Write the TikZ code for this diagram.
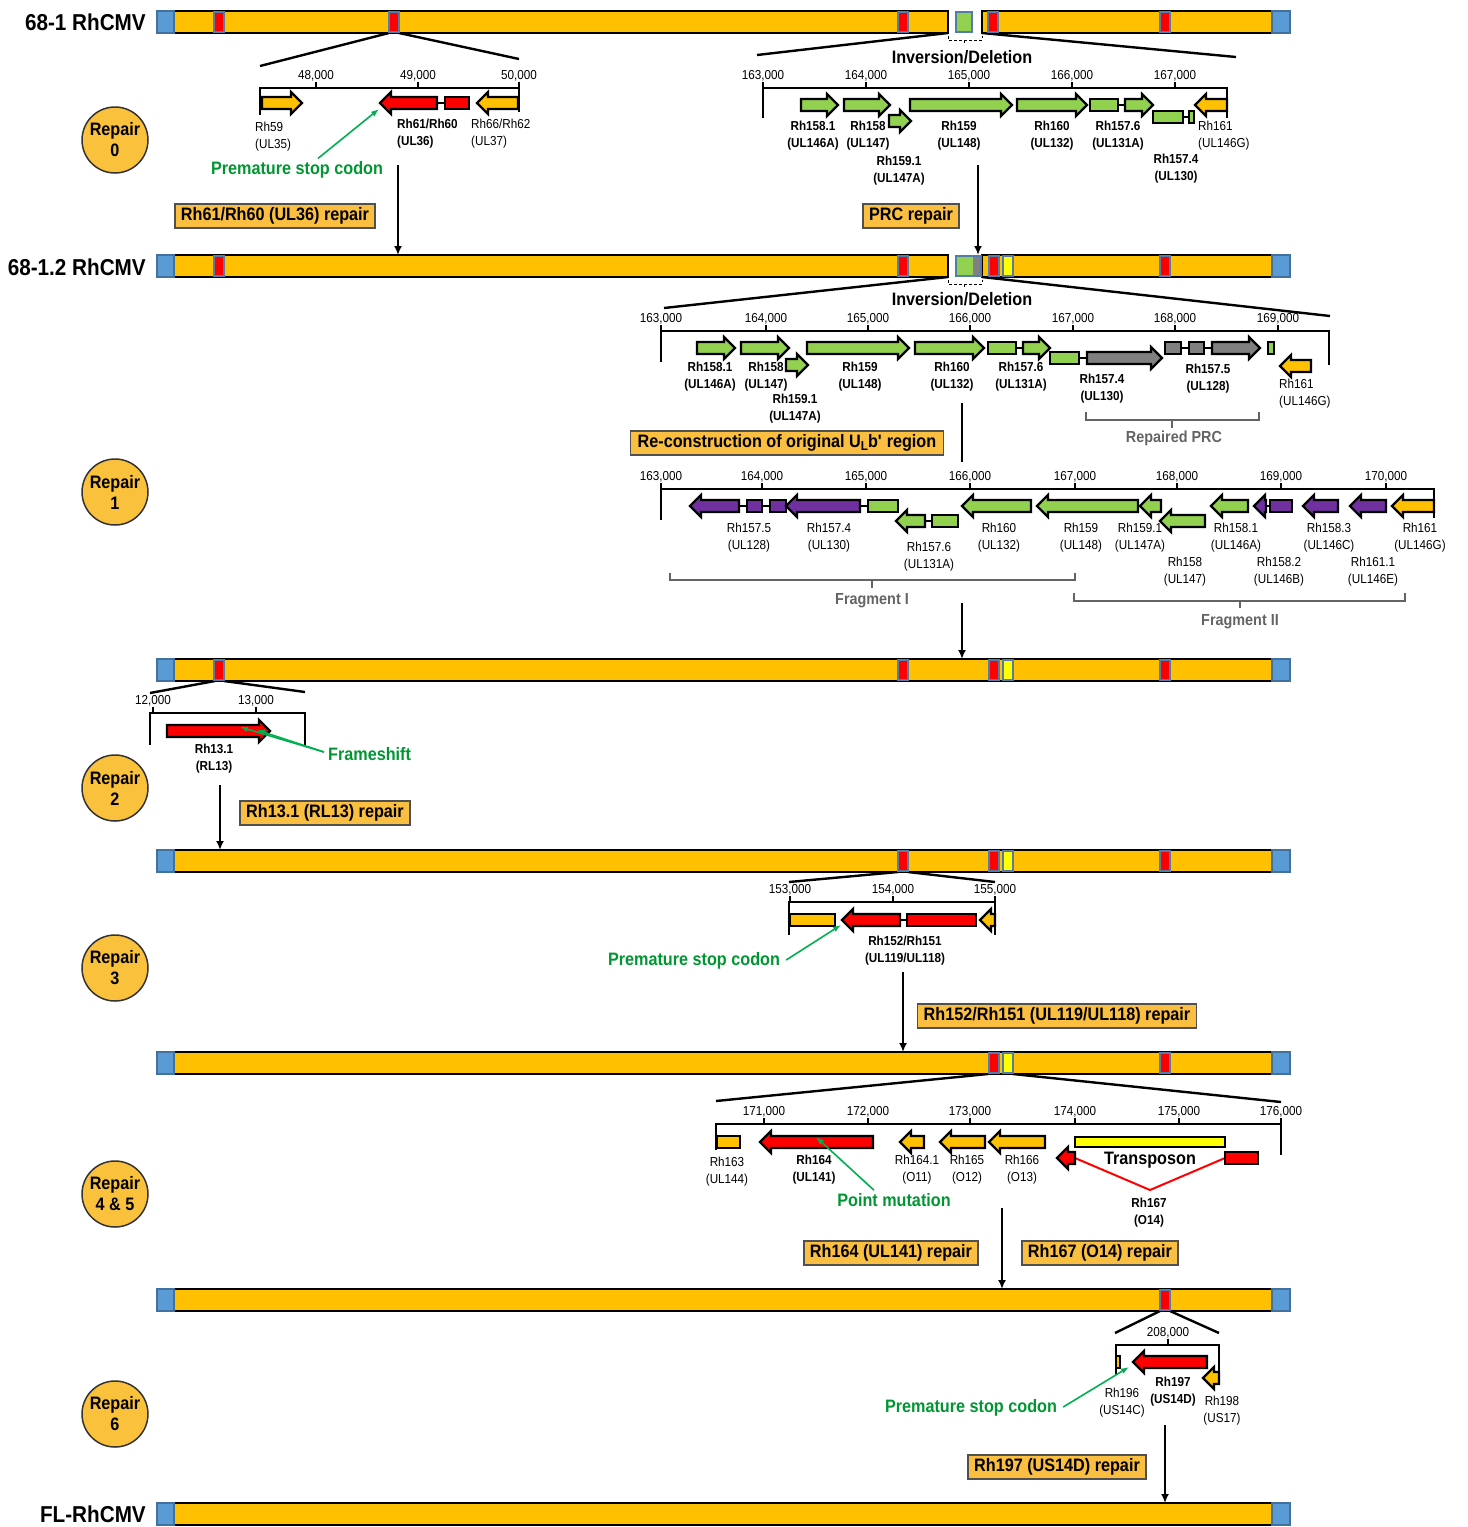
\documentclass[tikz,border=0pt]{standalone}
\usepackage{fontspec}
\setmainfont{Liberation Sans}[FakeStretch=0.9]
\usetikzlibrary{arrows.meta}
\definecolor{gorange}{RGB}{255,192,0}
\definecolor{gred}{RGB}{255,0,0}
\definecolor{ggreen}{RGB}{146,208,80}
\definecolor{gpurple}{RGB}{112,48,160}
\definecolor{ggray}{RGB}{128,128,128}
\definecolor{gyellow}{RGB}{255,255,0}
\definecolor{bblue}{RGB}{91,155,213}
\definecolor{bbluedk}{RGB}{65,113,156}
\definecolor{mkb}{RGB}{84,124,170}
\definecolor{txtgreen}{RGB}{0,150,50}
\definecolor{arrgreen}{RGB}{0,176,80}
\definecolor{circfill}{RGB}{250,193,60}
\definecolor{boxfill}{RGB}{250,190,64}
\definecolor{boxdk}{RGB}{80,80,80}
\definecolor{graytxt}{RGB}{100,100,100}
\newcommand\fsS{\fontsize{13}{17}\selectfont}
\newcommand\fsT{\fontsize{13}{15}\selectfont}
\newcommand\fsB{\fontsize{18}{21}\selectfont}
\newcommand\fsH{\fontsize{23}{26}\selectfont}
\newcommand\fsF{\fontsize{16}{18}\selectfont}
% gene shapes
\newcommand\GR[4]{\draw[gene,fill=#1] (#2,#4-6) -- (#3-11,#4-6) -- (#3-11,#4-11) -- (#3,#4) -- (#3-11,#4+11) -- (#3-11,#4+6) -- (#2,#4+6) -- cycle;}
\newcommand\GL[4]{\draw[gene,fill=#1] (#2,#4) -- (#2+11,#4-11) -- (#2+11,#4-6) -- (#3,#4-6) -- (#3,#4+6) -- (#2+11,#4+6) -- (#2+11,#4+11) -- cycle;}
\newcommand\GB[4]{\draw[gene,fill=#1] (#2,#4-6) rectangle (#3,#4+6);}
\newcommand\GK[3]{\draw[link] (#1,#3) -- (#2,#3);}
\newcommand\tk[3]{\draw[ax] (#1,#2) -- (#1,#2-6); \node[tick] (tk-#1-#2) at (#1,#2-12) {#3};}
\newcommand\genome[1]{%
  \draw[barline,fill=gorange] (174,#1) rectangle (1272,#1+22);
  \draw[endbox] (157,#1) rectangle (174,#1+22);
  \draw[endbox] (1272,#1) rectangle (1290,#1+22);}
\newcommand\mk[3]{\draw[mkst,fill=#3] (#1-5,#2+1) rectangle (#1+5,#2+21);}
\begin{document}
\begin{tikzpicture}[x=1pt,y=-1pt,
  gene/.style={draw=black,line width=2.2pt,line join=miter},
  link/.style={draw=black,line width=2pt},
  ax/.style={line width=2.4pt},
  zl/.style={line width=2.4pt},
  barline/.style={draw=black,line width=2.4pt},
  endbox/.style={draw=bbluedk,fill=bblue,line width=2pt},
  mkst/.style={draw=mkb,line width=2.2pt},
  lab/.style={font=\fsS,inner sep=0pt,align=center},
  blab/.style={font=\fsS\bfseries,inner sep=0pt,align=center},
  tick/.style={font=\fsT,inner sep=0pt},
  big/.style={font=\fsB\bfseries,inner sep=0pt},
  barlab/.style={font=\fsH\bfseries,inner sep=0pt,anchor=east},
  gtxt/.style={font=\fsB\bfseries,text=txtgreen,inner sep=0pt},
  garr/.style={draw=arrgreen,line width=1.6pt,-{Latex[length=8pt,width=6pt]}},
  varr/.style={line width=2pt,-{Latex[length=9pt,width=8pt]}},
  rbox/.style={draw=boxdk,fill=boxfill,line width=1.5pt,font=\fsB\bfseries,inner xsep=6pt,inner ysep=0pt,minimum height=24pt},
  rcirc/.style={circle,draw=black!80,fill=circfill,line width=1.5pt,minimum size=66pt,inner sep=0pt,font=\fsB\bfseries,align=center},
  brk/.style={draw=graytxt,line width=1.2pt},
  dsh/.style={draw=black,line width=0.9pt,densely dashed},
  ftxt/.style={font=\fsF\bfseries,text=graytxt,inner sep=0pt}
]
\useasboundingbox (0,0) rectangle (1468,1527);

% ================= BAR 1 =================
\draw[zl] (389,33) -- (260,66);
\draw[zl] (399,33) -- (519,59);
\draw[zl] (948,33) -- (757,55);
\draw[zl] (982,33) -- (1236,57);
\draw[barline,fill=gorange] (174,11) rectangle (948,33);
\draw[barline,fill=gorange] (982,11) rectangle (1272,33);
\draw[endbox] (157,11) rectangle (174,33);
\draw[endbox] (1272,11) rectangle (1290,33);
\mk{219}{11}{gred}\mk{394}{11}{gred}\mk{903}{11}{gred}\mk{993}{11}{gred}\mk{1165}{11}{gred}
\draw[mkst,fill=ggreen] (956,12) rectangle (972,32);
\node[barlab] (L1) at (146,22) {68-1 RhCMV};
\draw[dsh] (948,36) -- (948,40) -- (982,40) -- (982,36);
\draw[dsh] (964,40) -- (964,45);
\node[big] (inv1) at (962,57) {Inversion/Deletion};

% ---- repair 0 left
\node[rcirc] (c0) at (115,140) {Repair\\0};
\draw[ax] (260,115) -- (260,88) -- (519,88) -- (519,112);
\tk{316}{88}{48,000}\tk{418}{88}{49,000}\tk{519}{88}{50,000}
\GR{gorange}{262}{302}{103}
\GK{437}{445}{103}
\GL{gred}{380}{437}{103}
\GB{gred}{445}{469}{103}
\GL{gorange}{477}{518}{103}
\node[lab,anchor=west,align=left] (g59) at (255,137) {Rh59\\(UL35)};
\node[blab,anchor=west,align=left] (g61) at (397,134) {Rh61/Rh60\\(UL36)};
\node[lab,anchor=west,align=left] (g66) at (471,134) {Rh66/Rh62\\(UL37)};
\node[gtxt] (psc0) at (297,170) {Premature stop codon};
\coordinate (psc0t) at (379,109);
\draw[garr] (psc0.north) ++(21,-3) -- (psc0t);
\node[rbox] (rb0) at (275,216) {Rh61/Rh60 (UL36) repair};
\coordinate (a0s) at (398,165);
\coordinate (a0e) at (398,255);
\draw[varr] (a0s) -- (a0e);

% ---- repair 0 right
\draw[ax] (763,118) -- (763,88) -- (1227,88) -- (1227,118);
\tk{763}{88}{163,000}\tk{866}{88}{164,000}\tk{969}{88}{165,000}\tk{1072}{88}{166,000}\tk{1175}{88}{167,000}
\GR{ggreen}{801}{838}{105}
\GR{ggreen}{844}{890}{105}
\GR{ggreen}{889}{911}{121}
\GR{ggreen}{910}{1012}{105}
\GR{ggreen}{1017}{1087}{105}
\GK{1118}{1125}{105}
\GB{ggreen}{1090}{1118}{105}
\GR{ggreen}{1125}{1153}{105}
\GK{1183}{1189}{117}
\GB{ggreen}{1153}{1183}{117}
\GB{ggreen}{1189}{1194}{117}
\GL{gorange}{1195}{1227}{105}
\node[blab] (h1) at (813,136) {Rh158.1\\(UL146A)};
\node[blab] (h2) at (868,136) {Rh158\\(UL147)};
\node[blab] (h3) at (899,171) {Rh159.1\\(UL147A)};
\node[blab] (h4) at (959,136) {Rh159\\(UL148)};
\node[blab] (h5) at (1052,136) {Rh160\\(UL132)};
\node[blab] (h6) at (1118,136) {Rh157.6\\(UL131A)};
\node[blab] (h7) at (1176,169) {Rh157.4\\(UL130)};
\node[lab,anchor=west,align=left] (h8) at (1198,136) {Rh161\\(UL146G)};
\node[rbox] (rb1) at (911,216) {PRC repair};
\coordinate (a1s) at (978,165);
\coordinate (a1e) at (978,255);
\draw[varr] (a1s) -- (a1e);

% ================= BAR 2 =================
\draw[zl] (948,277) -- (664,308);
\draw[zl] (982,277) -- (1330,316);
\draw[barline,fill=gorange] (174,255) rectangle (948,277);
\draw[barline,fill=gorange] (982,255) rectangle (1272,277);
\draw[endbox] (157,255) rectangle (174,277);
\draw[endbox] (1272,255) rectangle (1290,277);
\mk{219}{255}{gred}\mk{903}{255}{gred}\mk{994}{255}{gred}\mk{1008}{255}{gyellow}\mk{1165}{255}{gred}
\fill[ggreen] (956,256) rectangle (973,276);
\fill[ggray] (973,256) rectangle (981,276);
\draw[mkst] (956,256) rectangle (981,276);
\node[barlab] (L2) at (146,267) {68-1.2 RhCMV};
\draw[dsh] (948,280) -- (948,284) -- (982,284) -- (982,280);
\draw[dsh] (964,284) -- (964,289);
\node[big] (inv2) at (962,299) {Inversion/Deletion};

% ---- repair 1 top
\node[rcirc] (c1) at (115,492) {Repair\\1};
\draw[ax] (661,362) -- (661,331) -- (1329,331) -- (1329,365);
\tk{661}{331}{163,000}\tk{766}{331}{164,000}\tk{868}{331}{165,000}\tk{970}{331}{166,000}\tk{1073}{331}{167,000}\tk{1175}{331}{168,000}\tk{1278}{331}{169,000}
\GR{ggreen}{697}{735}{348}
\GR{ggreen}{741}{789}{348}
\GR{ggreen}{786}{808}{365}
\GR{ggreen}{807}{909}{348}
\GR{ggreen}{915}{984}{348}
\GK{1016}{1023}{348}
\GB{ggreen}{988}{1016}{348}
\GR{ggreen}{1023}{1050}{348}
\GK{1079}{1087}{358}
\GB{ggreen}{1050}{1079}{358}
\GR{ggray}{1087}{1162}{358}
\GK{1181}{1212}{348}
\GB{ggray}{1165}{1181}{348}
\GB{ggray}{1189}{1204}{348}
\GR{ggray}{1212}{1260}{348}
\GB{ggreen}{1268}{1274}{348}
\GL{gorange}{1280}{1311}{366}
\node[blab] (k1) at (710,377) {Rh158.1\\(UL146A)};
\node[blab] (k2) at (766,377) {Rh158\\(UL147)};
\node[blab] (k3) at (795,409) {Rh159.1\\(UL147A)};
\node[blab] (k4) at (860,377) {Rh159\\(UL148)};
\node[blab] (k5) at (952,377) {Rh160\\(UL132)};
\node[blab] (k6) at (1021,377) {Rh157.6\\(UL131A)};
\node[blab] (k7) at (1102,389) {Rh157.4\\(UL130)};
\node[blab] (k8) at (1208,379) {Rh157.5\\(UL128)};
\node[lab,anchor=west,align=left] (k9) at (1279,394) {Rh161\\(UL146G)};
\draw[brk] (1086,412) -- (1086,420) -- (1259,420) -- (1259,412);
\draw[brk] (1172,420) -- (1172,428);
\node[ftxt] (rprc) at (1174,438) {Repaired PRC};
\node[rbox,inner xsep=7pt] (rb2) at (787,443) {Re-construction of original U\raisebox{-0.35ex}{\fontsize{13}{13}\selectfont L}b\textquotesingle{} region};
\coordinate (l1s) at (962,403);
\coordinate (l1e) at (962,462);
\draw[line width=2pt] (l1s) -- (l1e);

% ---- repair 1 bottom
\draw[ax] (661,520) -- (661,489) -- (1434,489) -- (1434,518);
\tk{661}{489}{163,000}\tk{762}{489}{164,000}\tk{866}{489}{165,000}\tk{970}{489}{166,000}\tk{1075}{489}{167,000}\tk{1177}{489}{168,000}\tk{1281}{489}{169,000}\tk{1386}{489}{170,000}
\GK{739}{770}{506}
\GL{gpurple}{690}{739}{506}
\GB{gpurple}{747}{762}{506}
\GB{gpurple}{770}{786}{506}
\GK{860}{868}{506}
\GL{gpurple}{786}{860}{506}
\GB{ggreen}{868}{898}{506}
\GK{925}{932}{521}
\GL{ggreen}{896}{925}{521}
\GB{ggreen}{932}{958}{521}
\GL{ggreen}{962}{1031}{506}
\GL{ggreen}{1037}{1138}{506}
\GL{ggreen}{1140}{1161}{506}
\GL{ggreen}{1160}{1205}{521}
\GL{ggreen}{1211}{1248}{506}
\GK{1266}{1270}{506}
\GL{gpurple}{1254}{1266}{506}
\GB{gpurple}{1270}{1292}{506}
\GL{gpurple}{1303}{1338}{506}
\GL{gpurple}{1350}{1386}{506}
\GL{gorange}{1392}{1434}{506}
\node[lab] (f1) at (749,538) {Rh157.5\\(UL128)};
\node[lab] (f2) at (829,538) {Rh157.4\\(UL130)};
\node[lab] (f3) at (929,557) {Rh157.6\\(UL131A)};
\node[lab] (f4) at (999,538) {Rh160\\(UL132)};
\node[lab] (f5) at (1081,538) {Rh159\\(UL148)};
\node[lab] (f6) at (1140,538) {Rh159.1\\(UL147A)};
\node[lab] (f7) at (1185,572) {Rh158\\(UL147)};
\node[lab] (f8) at (1236,538) {Rh158.1\\(UL146A)};
\node[lab] (f9) at (1279,572) {Rh158.2\\(UL146B)};
\node[lab] (f10) at (1329,538) {Rh158.3\\(UL146C)};
\node[lab] (f11) at (1373,572) {Rh161.1\\(UL146E)};
\node[lab] (f12) at (1420,538) {Rh161\\(UL146G)};
\draw[brk] (670,573) -- (670,580) -- (1075,580) -- (1075,573);
\draw[brk] (872,580) -- (872,588);
\node[ftxt] (fr1) at (872,601) {Fragment I};
\draw[brk] (1074,593) -- (1074,601) -- (1405,601) -- (1405,593);
\draw[brk] (1240,601) -- (1240,608);
\node[ftxt] (fr2) at (1240,622) {Fragment II};
\coordinate (a2s) at (962,603);
\coordinate (a2e) at (962,659);
\draw[varr] (a2s) -- (a2e);

% ================= BAR 3 =================
\draw[zl] (215,681) -- (150,693);
\draw[zl] (224,681) -- (305,692);
\genome{659}
\mk{219}{659}{gred}\mk{903}{659}{gred}\mk{994}{659}{gred}\mk{1008}{659}{gyellow}\mk{1165}{659}{gred}

\node[rcirc] (c2) at (115,788) {Repair\\2};
\draw[ax] (150,745) -- (150,713) -- (305,713) -- (305,745);
\tk{153}{713}{12,000}\tk{256}{713}{13,000}
\GR{gred}{167}{270}{731}
\node[blab] (g13) at (214,759) {Rh13.1\\(RL13)};
\node[gtxt,anchor=west] (fs) at (328,754) {Frameshift};
\coordinate (fs1) at (240,727);
\coordinate (fs2) at (257,730);
\draw[garr] (fs.west) ++(-4,-2) -- (fs1);
\draw[garr] (fs.west) ++(-4,-2) -- (fs2);
\node[rbox] (rb3) at (325,813) {Rh13.1 (RL13) repair};
\coordinate (a3s) at (220,785);
\coordinate (a3e) at (220,850);
\draw[varr] (a3s) -- (a3e);

% ================= BAR 4 =================
\draw[zl] (898,872) -- (789,882);
\draw[zl] (908,872) -- (995,882);
\genome{850}
\mk{903}{850}{gred}\mk{994}{850}{gred}\mk{1008}{850}{gyellow}\mk{1165}{850}{gred}

\node[rcirc] (c3) at (115,968) {Repair\\3};
\draw[ax] (789,935) -- (789,902) -- (995,902) -- (995,935);
\tk{790}{902}{153,000}\tk{893}{902}{154,000}\tk{995}{902}{155,000}
\GB{gorange}{790}{835}{920}
\GK{900}{907}{920}
\GL{gred}{842}{900}{920}
\GB{gred}{907}{976}{920}
\GL{gorange}{980}{995}{920}
\node[blab] (g152) at (905,951) {Rh152/Rh151\\(UL119/UL118)};
\node[gtxt] (psc3) at (694,961) {Premature stop codon};
\coordinate (psc3t) at (841,925);
\draw[garr] (psc3.east) ++(6,-1) -- (psc3t);
\node[rbox] (rb4) at (1057,1016) {Rh152/Rh151 (UL119/UL118) repair};
\coordinate (a4s) at (903,972);
\coordinate (a4e) at (903,1052);
\draw[varr] (a4s) -- (a4e);

% ================= BAR 5 =================
\draw[zl] (988,1074) -- (716,1101);
\draw[zl] (1013,1074) -- (1281,1102);
\genome{1052}
\mk{994}{1052}{gred}\mk{1008}{1052}{gyellow}\mk{1165}{1052}{gred}

\node[rcirc] (c4) at (115,1194) {Repair\\4 \& 5};
\draw[ax] (716,1150) -- (716,1124) -- (1281,1124) -- (1281,1155);
\tk{764}{1124}{171,000}\tk{868}{1124}{172,000}\tk{970}{1124}{173,000}\tk{1075}{1124}{174,000}\tk{1179}{1124}{175,000}\tk{1281}{1124}{176,000}
\GB{gorange}{717}{740}{1142}
\GL{gred}{760}{873}{1142}
\GL{gorange}{900}{924}{1142}
\GL{gorange}{940}{985}{1142}
\GL{gorange}{989}{1045}{1142}
\draw[gene,fill=gyellow] (1075,1137) rectangle (1225,1147);
\coordinate (tpa) at (1075,1158);
\coordinate (tpb) at (1150,1190);
\coordinate (tpc) at (1225,1158);
\draw[draw=gred,line width=2pt] (tpa) -- (tpb) -- (tpc);
\GL{gred}{1057}{1075}{1158}
\GB{gred}{1225}{1258}{1158}
\node[big] (tpn) at (1150,1160) {Transposon};
\node[lab] (m1) at (727,1172) {Rh163\\(UL144)};
\node[blab] (m2) at (814,1170) {Rh164\\(UL141)};
\node[lab] (m3) at (917,1170) {Rh164.1\\(O11)};
\node[lab] (m4) at (967,1170) {Rh165\\(O12)};
\node[lab] (m5) at (1022,1170) {Rh166\\(O13)};
\node[blab] (m6) at (1149,1213) {Rh167\\(O14)};
\node[gtxt] (pm) at (894,1200) {Point mutation};
\coordinate (pmt) at (816,1137);
\draw[garr] (pm.north) ++(-20,-3) -- (pmt);
\node[rbox] (rb5) at (891,1253) {Rh164 (UL141) repair};
\node[rbox] (rb6) at (1100,1253) {Rh167 (O14) repair};
\coordinate (a5s) at (1002,1208);
\coordinate (a5e) at (1002,1289);
\draw[varr] (a5s) -- (a5e);

% ================= BAR 6 =================
\draw[zl] (1160,1311) -- (1115,1333);
\draw[zl] (1170,1311) -- (1219,1333);
\genome{1289}
\mk{1165}{1289}{gred}

\node[rcirc] (c6) at (115,1414) {Repair\\6};
\draw[ax] (1116,1375) -- (1116,1345) -- (1219,1345) -- (1219,1385);
\tk{1168}{1345}{208,000}
\GB{gorange}{1116}{1120}{1362}
\GL{gred}{1133}{1207}{1362}
\GL{gorange}{1203}{1219}{1378}
\node[lab] (n1) at (1122,1403) {Rh196\\(US14C)};
\node[blab] (n2) at (1173,1392) {Rh197\\(US14D)};
\node[lab] (n3) at (1222,1411) {Rh198\\(US17)};
\node[gtxt] (psc6) at (971,1408) {Premature stop codon};
\coordinate (psc6t) at (1129,1367);
\draw[garr] (psc6.east) ++(6,-1) -- (psc6t);
\node[rbox] (rb7) at (1057,1467) {Rh197 (US14D) repair};
\coordinate (a6s) at (1165,1425);
\coordinate (a6e) at (1165,1503);
\draw[varr] (a6s) -- (a6e);

% ================= BAR 7 =================
\genome{1503}
\node[barlab] (L7) at (146,1514) {FL-RhCMV};
\end{tikzpicture}
\end{document}
